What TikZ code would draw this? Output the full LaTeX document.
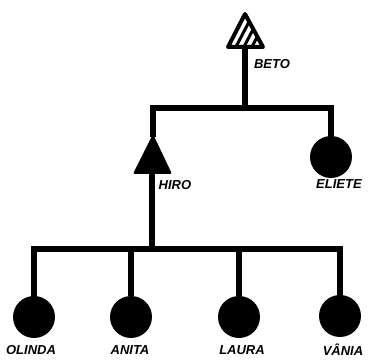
\documentclass[tikz,border=0pt]{standalone}
\usepackage{fontspec}
\setmainfont{Liberation Sans}
\usetikzlibrary{calc}
\begin{document}
\begin{tikzpicture}[x=1pt,y=-1pt,
  link/.style={line width=6pt,line cap=rect,line join=miter},
  person/.style={circle,fill=black,minimum size=42pt,inner sep=0pt},
  namelbl/.style={font=\fontsize{13}{13}\selectfont\bfseries\itshape,inner sep=0pt}]
\useasboundingbox (0,0) rectangle (368,361);
\fill[white] (0,0) rectangle (368,361);
% Beto (hatched triangle)
\coordinate (betoA) at (245,14);
\coordinate (betoL) at (228,47);
\coordinate (betoR) at (263,47);
\coordinate (betoB) at (245,47);
\begin{scope}
  \clip (betoA) -- (betoL) -- (betoR) -- cycle;
  \foreach \s in {-16,-8,...,24} {
    \draw[line width=3pt] ($(betoL)+(\s,0)+(-19,36)$) -- ($(betoA)+(\s,0)+(19,-36)$);
  }
\end{scope}
\draw[line width=4pt,line join=round] (betoA) -- (betoL) -- (betoR) -- cycle;
\node[namelbl] (betolbl) at (272,64) {BETO};
% Hiro (filled triangle)
\coordinate (hiroA) at (153,134);
\coordinate (hiroL) at (133,174);
\coordinate (hiroR) at (172,174);
\coordinate (hiroB) at (152,174);
\fill[rounded corners=2pt] (hiroA) -- (hiroL) -- (hiroR) -- cycle;
\node[namelbl] (hirolbl) at (175,185) {HIRO};
% Eliete
\node[person] (eliete) at (331,157) {};
\node[namelbl] (elietelbl) at (339,184) {ELIETE};
% top marriage line
\coordinate (topL) at (153,108);
\coordinate (topR) at (331,108);
\coordinate (betoJ) at (245,108);
\draw[link] (hiroA) -- (topL) -- (topR) -- (eliete.north);
\draw[link,line cap=butt] (betoB) -- (betoJ);
% children
\node[person] (olinda) at (34,317) {};
\node[person] (anita) at (131,317) {};
\node[person] (laura) at (239,317) {};
\node[person] (vania) at (340,316) {};
\node[namelbl] (olindalbl) at (31,350) {OLINDA};
\node[namelbl] (anitalbl) at (130,350) {ANITA};
\node[namelbl] (lauralbl) at (242,350) {LAURA};
\node[namelbl] (vanialbl) at (343,350) {VÂNIA};
\coordinate (botL) at (34,249);
\coordinate (botR) at (340,249);
\draw[link] (olinda.north) -- (botL) -- (botR) -- (vania.north);
\draw[link,line cap=butt] (hiroB) -- (152,249);
\draw[link,line cap=butt] (anita.north) -- (131,249);
\draw[link,line cap=butt] (laura.north) -- (239,249);
\end{tikzpicture}
\end{document}
